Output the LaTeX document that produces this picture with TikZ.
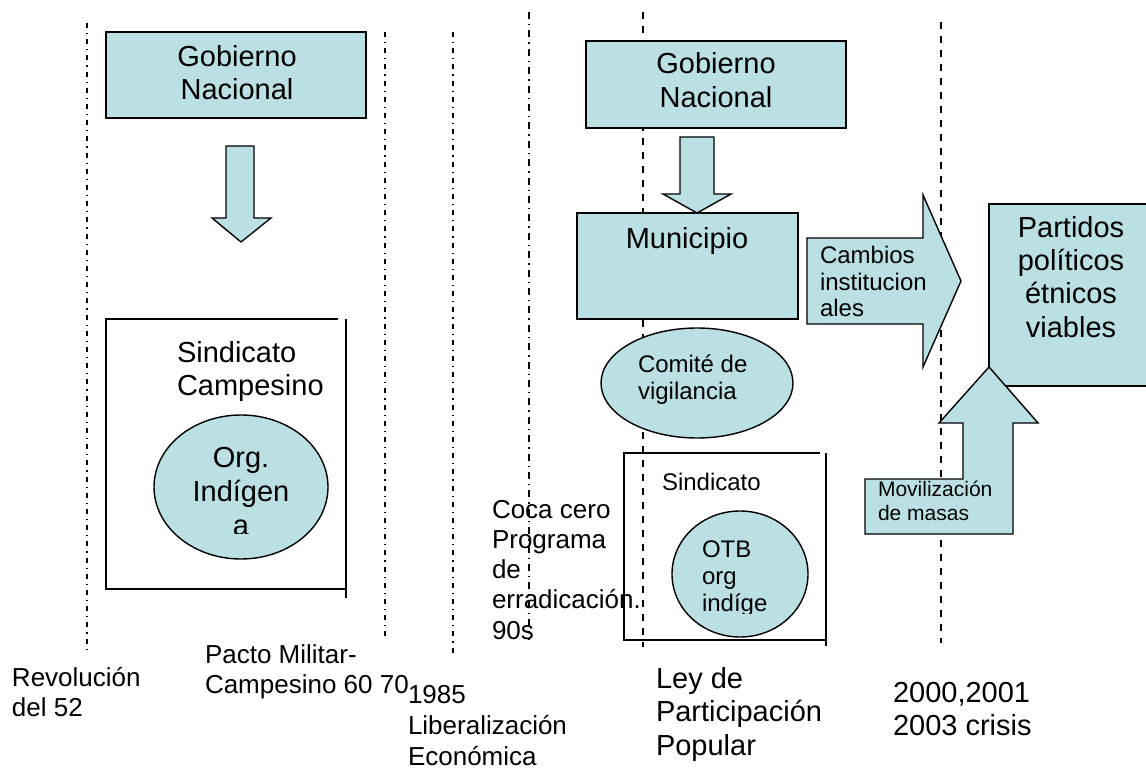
\documentclass[tikz,border=0pt]{standalone}
\usepackage{fontspec}
\setmainfont{Liberation Sans}
\usetikzlibrary{shapes.geometric}
\definecolor{fillb}{RGB}{187,224,227}
\newcommand\fs[2]{\fontsize{#1}{#2}\selectfont}
\newcommand\mlines[2]{\begin{tabular}[t]{@{}#1@{}}#2\end{tabular}}
\begin{document}
\begin{tikzpicture}[x=1pt,y=-1pt,
  bx/.style={draw=black, line width=1.4pt, fill=fillb},
  obox/.style={draw=black, line width=1.4pt},
  txt/.style={inner sep=0pt, outer sep=0pt},
  ddot/.style={line width=1.1pt, dash pattern=on 5pt off 5pt on 1.2pt off 5pt},
  ddotb/.style={line width=1.6pt, dash pattern=on 7pt off 5pt on 1.4pt off 5pt},
  dsh/.style={line width=1.3pt, dash pattern=on 7pt off 7pt}]
\useasboundingbox (0,0) rectangle (1146,770);

% time lines
\coordinate (la1) at (87,23);   \coordinate (la2) at (87,652);
\coordinate (lb1) at (385,32);  \coordinate (lb2) at (385,640);
\coordinate (lc1) at (453,32);  \coordinate (lc2) at (453,653);
\coordinate (ld1) at (529,12);  \coordinate (ld2) at (529,640);
\coordinate (le1) at (643,12);  \coordinate (le2) at (643,647);
\coordinate (lf1) at (941,22);  \coordinate (lf2) at (941,643);
\draw[ddot] (la1) -- (la2);
\draw[ddot] (lb1) -- (lb2);
\draw[ddot] (lc1) -- (lc2);
\draw[ddotb] (ld1) -- (ld2);
\draw[dsh] (le1) -- (le2);
\draw[dsh] (lf1) -- (lf2);

% ---------- left block ----------
\node[bx, minimum width=260, minimum height=86] (gob1) at (236,75) {};
\node[txt, anchor=base, font=\fs{29}{33}] (gob1t) at (237,67) {\mlines{c}{Gobierno\\Nacional}};
\draw[bx] (226,146) -- (254,146) -- (254,218) -- (271,218) -- (241,242) -- (212,218) -- (226,218) -- cycle;

\draw[obox] (338,319) -- (106,319) -- (106,589) -- (346,589);
\draw[obox] (346,319) -- (346,598);
\node[txt, anchor=base west, font=\fs{29}{33}] (sindc) at (177,362) {\mlines{l}{Sindicato\\Campesino}};
\node[bx, ellipse, minimum width=174, minimum height=144] (org) at (241,487) {};
\begin{scope}
\clip (0,0) rectangle (1146,533);
\node[txt, anchor=base, font=\fs{29}{34}] (orgt) at (241,467) {\mlines{c}{Org.\\Indígen\\a}};
\end{scope}

% ---------- middle block ----------
\node[bx, minimum width=260, minimum height=87] (gob2) at (716,84.5) {};
\node[txt, anchor=base, font=\fs{29}{34}] (gob2t) at (716,74) {\mlines{c}{Gobierno\\Nacional}};
\draw[bx] (680,137) -- (714,137) -- (714,194) -- (731,194) -- (697,213) -- (663,194) -- (680,194) -- cycle;
\node[bx, minimum width=221, minimum height=106] (muni) at (687.5,266) {};
\node[txt, anchor=base, font=\fs{29}{34}] (munit) at (687,248) {Municipio};
\node[bx, ellipse, minimum width=192, minimum height=110] (comite) at (697,383) {};
\node[txt, anchor=base west, font=\fs{24}{27}] (comitet) at (638,372) {\mlines{l}{Comité de\\vigilancia}};

\draw[obox] (820,453) -- (624,453) -- (624,640) -- (826,640);
\draw[obox] (826,453) -- (826,646);
\node[txt, anchor=base west, font=\fs{24}{27}] (sind2) at (662,490) {Sindicato};
\node[bx, ellipse, minimum width=136, minimum height=126] (otb) at (740,574) {};
\begin{scope}
\clip (0,0) rectangle (1146,613);
\node[txt, anchor=base west, font=\fs{24}{27}] (otbt) at (702,557) {\mlines{l}{OTB\\org\\indíge}};
\end{scope}

\node[txt, anchor=base west, font=\fs{26}{30.3}] (coca) at (492,518) {\mlines{l}{Coca cero\\Programa\\de\\erradicación.\\90s}};

% ---------- right block ----------
\draw[bx] (807,238) -- (923,238) -- (923,195) -- (961,281) -- (923,367) -- (923,324) -- (807,324) -- cycle;
\node[txt, anchor=base west, font=\fs{24}{27}] (cambios) at (820,263) {\mlines{l}{Cambios\\institucion\\ales}};

\draw[bx] (989,204) rectangle (1152,386);
\node[txt, anchor=base, font=\fs{29}{33.4}] (partidos) at (1071,237) {\mlines{c}{Partidos\\políticos\\étnicos\\viables}};

\draw[bx] (865,479) -- (963,479) -- (963,423) -- (939,423) -- (989,367) -- (1038,423) -- (1013,423) -- (1013,534) -- (865,534) -- cycle;
\node[txt, anchor=base west, font=\fs{21}{24}] (movil) at (878,496) {\mlines{l}{Movilización\\de masas}};

% ---------- bottom labels ----------
\node[txt, anchor=base west, font=\fs{26}{30}] (rev) at (12,686) {\mlines{l}{Revolución\\del 52}};
\node[txt, anchor=base west, font=\fs{26}{30}] (pacto) at (205,663) {\mlines{l}{Pacto Militar-\\Campesino 60 70}};
\node[txt, anchor=base west, font=\fs{26}{31}] (lib) at (408,703) {\mlines{l}{1985\\Liberalización\\Económica}};
\node[txt, anchor=base west, font=\fs{29}{33.5}] (ley) at (656,688) {\mlines{l}{Ley de\\Participación\\Popular}};
\node[txt, anchor=base west, font=\fs{29}{33}] (crisis) at (893,702) {\mlines{l}{2000,2001\\2003 crisis}};
\end{tikzpicture}
\end{document}
